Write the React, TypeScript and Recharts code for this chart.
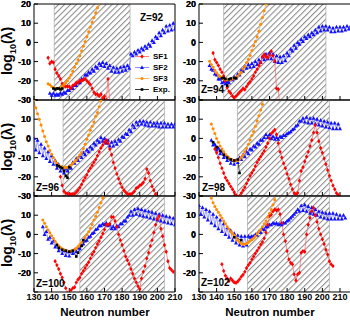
import React from "react";
import { LineChart, Line, XAxis, YAxis, ReferenceArea } from "recharts";

type Pt = [number, number];

// neutron number axis
const nTicks = [130, 140, 150, 160, 170, 180, 190, 200, 210];
const nMinor = [130, 132, 134, 136, 138, 140, 142, 144, 146, 148, 150, 152, 154, 156, 158, 160, 162, 164, 166, 168, 170, 172, 174, 176, 178, 180, 182, 184, 186, 188, 190, 192, 194, 196, 198, 200, 202, 204, 206, 208, 210, 212, 214, 216];
const vTicks = [-30, -20, -10, 0, 10, 20];
const vMinor = [-30, -25, -20, -15, -10, -5, 0, 5, 10, 15, 20];

// Z=92
const z92Sf1: Pt[] = [[138,-8],[139,-11],[140,-10],[141,-10.5],[142,-14],[143,-16],[144,-17.5],[145,-19],[146,-21.5],[147,-22.5],[148,-23],[149,-23],[150,-23],[151,-24],[152,-22.5],[153,-22],[154,-21],[155,-21],[156,-20],[157,-20],[158,-19.5],[159,-19],[160,-20],[161,-21],[162,-22],[163,-24],[164,-26],[165,-27],[166,-27],[167,-28],[168,-27],[169,-29],[170,-28],[171,-30],[172,-19],[173,-31]];
const z92Sf2: Pt[] = [[139,-26.5],[140,-27.5],[141,-26.5],[142,-27.5],[143,-27],[144,-27.5],[145,-26.5],[146,-27],[147,-26],[148,-26.5],[149,-25],[150,-25],[151,-24],[152,-24],[153,-22.5],[154,-22.5],[155,-21],[156,-21],[157,-19],[158,-19],[159,-17],[160,-17],[161,-15.5],[162,-16],[163,-14],[164,-15],[165,-12.5],[166,-13.5],[167,-11],[168,-12],[169,-10.5],[170,-12.5],[171,-11],[172,-13.5],[173,-12],[174,-15],[175,-13],[176,-15.5],[177,-13.5],[178,-15.5],[179,-13],[180,-15],[181,-12.5],[182,-14.5],[183,-12],[184,-13.5],[185,-6],[186,-7],[187,-5],[188,-6],[189,-4],[190,-5],[191,-3],[192,-4],[193,-2],[194,-3],[195,-1],[196,-2],[197,1],[198,0],[199,3],[200,2],[201,5],[202,3.5],[203,6.5],[204,5],[205,8.5],[206,6],[207,9],[208,6.5],[209,10],[210,7]];
const z92Sf3: Pt[] = [[138,-21.5],[139,-22],[140,-23],[141,-23.5],[142,-24],[143,-24],[144,-24],[145,-23.5],[146,-23],[147,-22],[148,-21],[149,-20],[150,-18.5],[151,-17],[152,-15],[153,-13],[154,-11],[155,-9],[156,-7],[157,-4.5],[158,-2],[159,0.5],[160,3],[161,5.5],[162,8],[163,10.5],[164,13],[165,15.5],[166,18],[167,20.5]];
const z92Exp: Pt[] = [[141,-24],[142,-24.5],[143,-24],[144,-24],[145,-24.5],[146,-24]];

// Z=94
const z94Sf1: Pt[] = [[138,-5.5],[139,-9],[140,-10.5],[141,-12],[142,-14],[143,-15.5],[144,-17.5],[145,-20],[146,-23.5],[147,-25.5],[148,-26.5],[149,-28],[150,-28.8],[151,-28],[152,-27],[153,-26],[154,-25],[155,-24],[156,-24.5],[157,-23],[158,-21.5],[159,-20.5],[160,-19],[161,-17.5],[162,-15.5],[163,-14],[164,-12],[165,-10.5],[166,-7.5],[167,-6.3],[168,-7.5],[169,-8],[170,-6.5],[171,-4.6],[172,-7],[173,-9.7],[174,-24],[175,-24.4],[176,-35]];
const z94Sf2: Pt[] = [[136,-12],[137,-14],[138,-14.5],[139,-16.5],[140,-17],[141,-19],[142,-19],[143,-21],[144,-20.5],[145,-21.5],[146,-20.5],[147,-21],[148,-19.5],[149,-19.5],[150,-18],[151,-18.5],[152,-16.5],[153,-17],[154,-14.5],[155,-15],[156,-12.5],[157,-13.5],[158,-11.5],[159,-13],[160,-11],[161,-12.5],[162,-10],[163,-11.5],[164,-9],[165,-10.5],[166,-7.5],[167,-9],[168,-6],[169,-8.5],[170,-5.5],[171,-8.5],[172,-6],[173,-10],[174,-7],[175,-10.5],[176,-7.5],[177,-10.5],[178,-7],[179,-9.5],[180,-5.5],[181,-7],[182,-3.5],[183,-4.5],[184,-1.5],[185,-3],[186,0],[187,-1],[188,1.5],[189,0.5],[190,3],[191,2],[192,4],[193,3],[194,5],[195,4],[196,6.5],[197,5],[198,8],[199,6],[200,8.5],[201,6.5],[202,8.5],[203,6.5],[204,8],[205,5.5],[206,7.5],[207,5.5],[208,8],[209,6],[210,8],[211,6],[212,8],[213,6.5],[214,8.5],[215,7],[216,8.5]];
const z94Sf3: Pt[] = [[136,-9.8],[137,-11.5],[138,-13],[139,-14.5],[140,-15.8],[141,-17],[142,-17.8],[143,-18.5],[144,-19],[145,-19.2],[146,-19.4],[147,-19.4],[148,-19.3],[149,-19.1],[150,-18.6],[151,-18.2],[152,-17.5],[153,-16.5],[154,-15.5],[155,-13.8],[156,-12.5],[157,-10.5],[158,-8.8],[159,-6.8],[160,-4.2],[161,-1.8],[162,0.5],[163,3],[164,5.8],[165,9.5],[166,13],[167,16.5],[168,20],[169,23]];
const z94Exp: Pt[] = [[143,-18.6],[144,-18.5],[145,-19],[146,-22.5],[147,-19.2],[148,-18.8],[150,-18.6],[151,-18.6]];

// Z=96
const z96Sf1: Pt[] = [[145,-20],[146,-24.5],[147,-27.5],[148,-28.5],[149,-28.8],[150,-29],[151,-29],[152,-29],[153,-29],[154,-28],[155,-27],[156,-25.7],[157,-24],[158,-22],[159,-20.5],[160,-19],[161,-17],[162,-15.5],[163,-14],[164,-12.5],[165,-11],[166,-9],[167,-7],[168,-5],[169,-3.5],[170,-2],[171,-1],[172,-2.5],[173,-5.5],[174,-8.5],[175,-12.5],[176,-15.5],[177,-18.5],[178,-21],[179,-23.5],[180,-25.5],[181,-27],[182,-28],[183,-29],[184,-29],[185,-29],[186,-28.5],[187,-27.5],[188,-26],[189,-25.5],[190,-24.5],[191,-24],[192,-23],[193,-21],[194,-16],[195,-18],[196,-22],[197,-25],[198,-27],[199,-29],[200,-31]];
const z96Sf2: Pt[] = [[130,0],[131,-6],[132,-1],[133,-7.5],[134,-3],[135,-9],[136,-5],[137,-10.5],[138,-7],[139,-12],[140,-9],[141,-13.5],[142,-11.5],[143,-15.5],[144,-13.5],[145,-17],[146,-15],[147,-18],[148,-15.5],[149,-17],[150,-14.5],[151,-15.5],[152,-12.5],[153,-13],[154,-10.5],[155,-11.5],[156,-9],[157,-10],[158,-7.5],[159,-8.5],[160,-6],[161,-7],[162,-4.5],[163,-5.5],[164,-2.5],[165,-3.5],[166,-1],[167,-2],[168,0.5],[169,-1.5],[170,0],[171,-2.5],[172,-1],[173,-4],[174,-2],[175,-4],[176,-1.5],[177,-3],[178,-0.5],[179,-1.5],[180,1],[181,0.5],[182,2.5],[183,2],[184,4.5],[185,3.5],[186,7],[187,5.5],[188,8.5],[189,7],[190,9],[191,7.5],[192,9],[193,7],[194,8.5],[195,6.5],[196,8.5],[197,6.5],[198,8],[199,6.5],[200,8],[201,6],[202,8],[203,6],[204,8],[205,6],[206,7.5],[207,6],[208,7.5],[209,6],[210,7.5]];
const z96Sf3: Pt[] = [[130,20],[131,16],[132,12.8],[133,10],[134,7],[135,3.8],[136,1],[137,-1.7],[138,-4],[139,-6.3],[140,-8.3],[141,-10],[142,-11.6],[143,-13],[144,-14],[145,-14.7],[146,-15],[147,-15],[148,-15.1],[149,-15],[150,-14.6],[151,-14],[152,-13],[153,-12],[154,-11.2],[155,-10],[156,-8.6],[157,-7.3],[158,-5.3],[159,-3],[160,-0.5],[161,1.8],[162,4.2],[163,6.3],[164,8.5],[165,11.5],[166,13.5],[167,16.5],[168,19.5],[169,22.5]];
const z96Exp: Pt[] = [[143,-14],[144,-14.5],[145,-15],[146,-15.5],[147,-17],[148,-19.5],[149,-20.5],[150,-15]];

// Z=98
const z98Sf1: Pt[] = [[139,-5.5],[140,-7.5],[141,-10],[142,-13],[143,-15.5],[144,-18],[145,-20.5],[146,-22],[147,-23.5],[148,-25],[149,-26.5],[150,-28],[151,-29.5],[152,-31],[153,-30],[154,-28.5],[155,-27],[156,-25.5],[157,-23.5],[158,-21.5],[159,-19.5],[160,-18],[161,-16.5],[162,-14.5],[163,-12.5],[164,-11],[165,-9.5],[166,-8],[167,-6.5],[168,-4.5],[169,-2.5],[170,0],[171,2.5],[172,3.5],[173,4.5],[174,2],[175,-2.5],[176,-7],[177,-10],[178,-13],[179,-15.5],[180,-18.5],[181,-21],[182,-24],[183,-26.5],[184,-28.5],[185,-29],[186,-28.5],[187,-22],[188,-17],[189,-15],[190,-12],[191,-9.5],[192,-7],[193,-4],[194,-1],[195,3],[196,7],[197,3],[198,-1.5],[199,-5],[200,-7.5],[201,-10.5],[202,-13.5],[203,-16.5],[204,-19.5],[205,-22],[206,-24.5],[207,-26.5],[208,-28.5],[209,-29.5],[210,-31]];
const z98Sf2: Pt[] = [[137,-1],[138,-3.5],[139,-3],[140,-6],[141,-5],[142,-8],[143,-7],[144,-10],[145,-9],[146,-11.5],[147,-10.5],[148,-13],[149,-11.5],[150,-13.5],[151,-11.5],[152,-12.5],[153,-10],[154,-11],[155,-8.5],[156,-9.5],[157,-7],[158,-8],[159,-5.5],[160,-6],[161,-4],[162,-4.5],[163,-2.5],[164,-3],[165,-1],[166,-1],[167,0.5],[168,2],[169,0.5],[170,2],[171,0],[172,1],[173,-0.5],[174,0.5],[175,-0.5],[176,1],[177,0.5],[178,1.5],[179,1.5],[180,2.5],[181,3],[182,3.5],[183,4.5],[184,5],[185,6.5],[186,7],[187,9],[188,9],[189,10.5],[190,8.5],[191,11],[192,8],[193,10.5],[194,8],[195,10.5],[196,7.5],[197,10],[198,7],[199,9.5],[200,6.5],[201,9],[202,6],[203,8.5],[204,5.5],[205,8],[206,5],[207,8],[208,5],[209,7.5],[210,5]];
const z98Sf3: Pt[] = [[137,7.5],[138,5],[139,2.5],[140,0],[141,-2],[142,-4],[143,-5.5],[144,-7],[145,-8.3],[146,-9.3],[147,-10.2],[148,-10.8],[149,-11.3],[150,-11.6],[151,-11.7],[152,-11.5],[153,-10.8],[154,-9.8],[155,-8.6],[156,-7],[157,-5.3],[158,-3],[159,-0.8],[160,1.5],[161,3.6],[162,6.3],[163,9],[164,11.8],[165,14.8],[166,17.8],[167,21]];
const z98Exp: Pt[] = [[138,-2],[140,-4.5],[142,-6.5],[144,-8.5],[146,-10],[148,-11],[150,-11.5],[152,-11],[153,-18]];

// Z=100
const z100Sf1: Pt[] = [[142,-14],[143,-16],[144,-18],[145,-20.5],[146,-22.5],[147,-25],[148,-28],[149,-30.5],[150,-31],[151,-29],[152,-28],[153,-27.5],[154,-25],[155,-23.5],[156,-22.5],[157,-20.5],[158,-19],[159,-17.5],[160,-16],[161,-14.5],[162,-12.5],[163,-10.5],[164,-9],[165,-7],[166,-5],[167,-3.5],[168,-1.5],[169,0.5],[170,2.5],[171,5],[172,5],[173,5.5],[174,9],[175,9],[176,7],[177,4],[178,0],[179,-3],[180,-5.5],[181,-8.5],[182,-11.5],[183,-13.5],[184,-15.5],[185,-18],[186,-20.5],[187,-23],[188,-25],[189,-27],[190,-28.5],[191,-23],[192,-19.5],[193,-16.5],[194,-12.5],[195,-9.5],[196,-6],[197,-3],[198,1],[199,5],[200,8],[201,9.5],[202,3],[203,-1],[204,-5.5],[205,-9],[206,-14],[207,-17.5],[208,-18.5],[209,-19.5]];
const z100Sf2: Pt[] = [[135,4],[136,0],[137,1.5],[138,-2.5],[139,-1.5],[140,-4.5],[141,-3.5],[142,-6.5],[143,-5.5],[144,-8.5],[145,-7],[146,-10],[147,-8.5],[148,-11],[149,-9],[150,-11.3],[151,-9],[152,-10],[153,-8],[154,-9],[155,-7],[156,-7.5],[157,-5.5],[158,-5],[159,-3.5],[160,-3],[161,-1.5],[162,-1],[163,0.5],[164,1],[165,2.5],[166,3],[167,4.5],[168,4.5],[169,5.5],[170,5],[171,6],[172,4.5],[173,5],[174,3],[175,4],[176,3],[177,4.5],[178,4],[179,5.5],[180,5.5],[181,7],[182,7],[183,9],[184,10],[185,12],[186,10],[187,13],[188,10.5],[189,13.5],[190,10],[191,13],[192,9.5],[193,12.5],[194,9],[195,12],[196,8.5],[197,11.5],[198,8],[199,11],[200,7.5],[201,10.5],[202,7],[203,10],[204,6.5],[205,9.5],[206,6],[207,9],[208,5.5],[209,8.5],[210,5]];
const z100Sf3: Pt[] = [[135,7.5],[136,5.8],[137,4],[138,2.3],[139,0.8],[140,-0.7],[141,-2.2],[142,-3.6],[143,-5],[144,-6],[145,-6.8],[146,-7.5],[147,-8],[148,-8.4],[149,-8.7],[150,-8.8],[151,-8.7],[152,-8.4],[153,-7.8],[154,-7.2],[155,-6.3],[156,-5.3],[157,-4.2],[158,-3],[159,-1.6],[160,-0.2],[161,1.4],[162,3.2],[163,5.2],[164,7.5],[165,9.5],[166,11.5],[167,14],[168,16.5],[169,19],[170,21.5]];
const z100Exp: Pt[] = [[143,-5.5],[144,-7],[146,-8],[148,-8.5],[150,-9],[152,-8.5],[154,-11.5],[155,-9.5],[157,-6],[158,-3]];

// Z=102
const z102Sf1: Pt[] = [[143,-15.5],[144,-19],[145,-21.5],[146,-23],[147,-24.3],[148,-23],[149,-24],[150,-25],[151,-25.2],[152,-24.5],[153,-23.4],[154,-22],[155,-21],[156,-19.5],[157,-17.5],[158,-16],[159,-14.8],[160,-13],[161,-11.5],[162,-10],[163,-8.5],[164,-7],[165,-5.3],[166,-4],[167,-2],[168,1],[169,5],[170,9.5],[171,10.3],[172,12],[173,13],[174,12.5],[175,13],[176,10.5],[177,6],[178,0],[179,-3.5],[180,-8.7],[181,-13],[182,-14.8],[183,-15.6],[184,-20.8],[185,-24],[186,-20.8],[187,-20],[188,-9.5],[189,-8.7],[190,-9],[191,0],[192,5],[193,8.6],[194,12],[195,13.8],[196,10],[197,6.5],[198,3],[199,0],[200,-2.5],[201,-5],[202,-8],[203,-10.5],[204,-14],[205,-15.6],[206,-16.5]];
const z102Sf2: Pt[] = [[130,15],[131,10.5],[132,14],[133,9],[134,13],[135,7.5],[136,12],[137,6],[138,10.5],[139,4.5],[140,9],[141,3],[142,7.5],[143,1.5],[144,5.5],[145,0],[146,3.5],[147,-1.5],[148,2],[149,-3],[150,0.5],[151,-4.5],[152,-0.5],[153,-5.5],[154,-1],[155,-6],[156,-1],[157,-5.5],[158,-1],[159,-1.5],[160,-1],[161,-1],[162,0],[163,-0.5],[164,1.5],[165,1],[166,3],[167,2.5],[168,4],[169,4],[170,5],[171,5],[172,6],[173,5.5],[174,6],[175,5],[176,5.5],[177,5],[178,6],[179,6],[180,7],[181,7.5],[182,8.5],[183,9.5],[184,10.5],[185,11.5],[186,13],[187,12],[188,15],[189,12.5],[190,15.5],[191,12],[192,14.5],[193,11],[194,14],[195,10.5],[196,13],[197,10],[198,12],[199,9],[200,11.5],[201,8.5],[202,11],[203,8],[204,11],[205,8],[206,11],[207,8],[208,10.5],[209,8],[210,10],[211,8],[212,10],[213,8.5]];
const z102Sf3: Pt[] = [[137,19],[138,16.5],[139,14.5],[140,13],[141,11.5],[142,10],[143,8.5],[144,7],[145,5.5],[146,4],[147,2.8],[148,1.5],[149,0.5],[150,-0.5],[151,-1.8],[152,-3],[153,-4],[154,-4.8],[155,-5.2],[156,-5],[157,-4.7],[158,-4.2],[159,-3.5],[160,-2.8],[161,-2],[162,-1],[163,0.3],[164,1.5],[165,2.5],[166,4],[167,5.5],[168,7],[169,9],[170,11],[171,13],[172,15.5],[173,18],[174,21]];
const z102Exp: Pt[] = [[150,-1.5],[154,-3]];

// hatched (shaded) neutron ranges
const z92Band: Pt = [141.5, 184.5];
const z94Band: Pt = [144, 202];
const z96Band: Pt = [146.5, 204];
const z98Band: Pt = [151.8, 204];
const z100Band: Pt = [156, 204];
const z102Band: Pt = [157.5, 204];

// x ranges of the two columns (the right column runs past 210 and is cut by the figure edge)
const leftDomain: Pt = [130, 210];
const rightDomain: Pt = [130, 216];

const seriesNames = ["SF1", "SF2", "SF3", "Exp."];

const PX_PER_N = 1.7625;
const PLOT_H = 96;
const FONT = "Arial, 'Liberation Sans', sans-serif";

const RED = "#ff0000";
const BLUE = "#1010ff";
const ORANGE = "#ff8c00";

const pts = (a: Pt[]) => a.map(([n, v]) => ({ n, v }));

const diamond = (p: any) => (
  <path key={`d${p.index}`} d={`M${p.cx},${p.cy - 2.2}L${p.cx + 1.7},${p.cy}L${p.cx},${p.cy + 2.2}L${p.cx - 1.7},${p.cy}Z`} fill={RED} />
);
const triangle = (p: any) => (
  <path key={`t${p.index}`} d={`M${p.cx},${p.cy - 2.2}L${p.cx + 2},${p.cy + 1.5}L${p.cx - 2},${p.cy + 1.5}Z`} fill={BLUE} />
);
const circle = (p: any) => <circle key={`c${p.index}`} cx={p.cx} cy={p.cy} r={1.5} fill={ORANGE} />;
const square = (p: any) => <rect key={`s${p.index}`} x={p.cx - 1.3} y={p.cy - 1.3} width={2.6} height={2.6} fill="#000" />;

const tickText = { fontSize: 9, fontWeight: 700, fill: "#000", fontFamily: FONT };
const hiddenByRow = [[], [20], [20, -30]] as number[][];

type PanelProps = {
  id: string;
  left: number;
  top: number;
  axisW: number;
  row: number;
  domain: Pt;
  sf1: Pt[];
  sf2: Pt[];
  sf3: Pt[];
  exp: Pt[];
  band: Pt;
};

function Panel({ id, left, top, axisW, row, domain, sf1, sf2, sf3, exp, band }: PanelProps) {
  const mTop = 6;
  const mBottom = row === 2 ? 18 : 6;
  const mRight = 10;
  const plotW = (domain[1] - domain[0]) * PX_PER_N;
  const hidden = hiddenByRow[row];

  const xTick = (p: any) =>
    row === 2 ? (
      <text key={`x${p.index}`} x={p.x} y={p.y} textAnchor="middle" dominantBaseline="hanging" {...tickText}>
        {p.payload.value}
      </text>
    ) : (
      <g key={`x${p.index}`} />
    );
  const yTick = (p: any) =>
    hidden.includes(p.payload.value) ? (
      <g key={`y${p.index}`} />
    ) : (
      <text key={`y${p.index}`} x={axisW - 3} y={p.y} textAnchor="end" dy="0.35em" {...tickText}>
        {p.payload.value}
      </text>
    );

  // 1px bands for the top/bottom x axes and the right y axis
  return (
    <div style={{ position: "absolute", left, top: top - mTop - 1 }}>
      <LineChart
        width={axisW + plotW + 1 + mRight}
        height={mTop + PLOT_H + 2 + mBottom}
        margin={{ top: mTop, right: mRight, bottom: mBottom, left: 0 }}
        style={{ overflow: "visible" }}
      >
        <defs>
          <pattern id={`hatch${id}`} width={4.2} height={4.2} patternUnits="userSpaceOnUse" patternTransform="rotate(45)">
            <line x1={0.5} y1={0} x2={0.5} y2={4.2} stroke="#8a8a8a" strokeWidth={1.1} />
          </pattern>
        </defs>
        <XAxis
          dataKey="n"
          type="number"
          domain={domain}
          allowDataOverflow
          ticks={nTicks}
          interval={0}
          height={1}
          tickSize={-4}
          tickMargin={6}
          stroke="#000"
          tick={xTick}
        />
        <XAxis xAxisId="top" orientation="top" type="number" domain={domain} allowDataOverflow ticks={nMinor} interval={0} height={1} tickSize={-2} tick={false} stroke="#000" />
        <YAxis type="number" domain={[-30, 20]} allowDataOverflow ticks={vTicks} interval={0} width={axisW} tickSize={-4} tickMargin={6} stroke="#000" tick={yTick} />
        <YAxis yAxisId="right" orientation="right" type="number" domain={[-30, 20]} allowDataOverflow ticks={vMinor} interval={0} width={1} tickSize={-2} tick={false} stroke="#000" />
        <ReferenceArea x1={band[0]} x2={band[1]} y1={-30} y2={20} fill={`url(#hatch${id})`} fillOpacity={1} stroke="#9a9a9a" strokeWidth={0.6} ifOverflow="hidden" />
        <Line data={pts(sf2)} dataKey="v" stroke="#7070ff" strokeWidth={0.7} dot={triangle} isAnimationActive={false} />
        <Line data={pts(sf1)} dataKey="v" stroke="#ff6060" strokeWidth={0.7} dot={diamond} isAnimationActive={false} />
        <Line data={pts(sf3)} dataKey="v" stroke="#ffa040" strokeWidth={0.7} dot={circle} isAnimationActive={false} />
        <Line data={pts(exp)} dataKey="v" stroke="#000" strokeWidth={0.7} dot={square} isAnimationActive={false} />
      </LineChart>
    </div>
  );
}

// y tick labels as html blocks next to each panel's left edge
function YLabels({ right, tops }: { right: number; tops: number[] }) {
  return (
    <>
      {tops.map((t, r) =>
        vTicks
          .filter((v) => !hiddenByRow[r].includes(v))
          .map((v) => (
            <div
              key={`${r}_${v}`}
              style={{
                position: "absolute",
                left: right - 18,
                width: 18,
                top: t + ((20 - v) * PLOT_H) / 50,
                transform: "translateY(-50%)",
                textAlign: "right",
                fontFamily: FONT,
                fontWeight: "bold",
                fontSize: 9,
                lineHeight: 1,
                color: "#000",
                zIndex: 5,
              }}
            >
              {v}
            </div>
          ))
      )}
    </>
  );
}

const legendMarks = [diamond, triangle, circle, square];
const legendLines = ["#ff6060", "#7070ff", "#ffa040", "#000"];

function LegendBox() {
  return (
    <div style={{ position: "absolute", left: 134, top: 51 }}>
      {seriesNames.map((name, i) => (
        <div key={name} style={{ display: "flex", alignItems: "center", height: 11 }}>
          <svg width={16} height={11}>
            <line x1={1} y1={5.5} x2={15} y2={5.5} stroke={legendLines[i]} strokeWidth={0.8} />
            {legendMarks[i]({ cx: 8, cy: 5.5, index: i })}
          </svg>
          <span style={{ fontFamily: FONT, fontWeight: "bold", fontSize: 8, marginLeft: 3 }}>{name}</span>
        </div>
      ))}
    </div>
  );
}

const zStyle = (left: number, top: number): React.CSSProperties => ({
  position: "absolute",
  left,
  top,
  transform: "translateY(-50%)",
  fontFamily: FONT,
  fontWeight: "bold",
  fontSize: 10,
  lineHeight: 1,
  whiteSpace: "nowrap",
});

const yLabel = (cy: number) => (
  <div
    key={cy}
    style={{
      position: "absolute",
      left: 9,
      top: cy,
      transform: "translate(-50%, -50%) rotate(-90deg)",
      fontFamily: FONT,
      fontWeight: "bold",
      fontSize: 14,
      lineHeight: 1,
      whiteSpace: "nowrap",
    }}
  >
    log<sub style={{ fontSize: 9 }}>10</sub>(λ)
  </div>
);

const xLabelStyle = (cx: number): React.CSSProperties => ({
  position: "absolute",
  left: cx,
  top: 313,
  transform: "translate(-50%, -50%)",
  fontFamily: FONT,
  fontWeight: "bold",
  fontSize: 11.5,
  lineHeight: 1,
  whiteSpace: "nowrap",
});

export default function App() {
  const L = { left: 0, axisW: 34, domain: leftDomain };
  const R = { left: 175, axisW: 24, domain: rightDomain };
  const rowTops = [4, 100, 196];
  return (
    <div style={{ position: "absolute", left: 0, top: 0, width: 350, height: 321, background: "#fff", overflow: "hidden" }}>
      <Panel id="92" {...L} top={rowTops[0]} row={0} sf1={z92Sf1} sf2={z92Sf2} sf3={z92Sf3} exp={z92Exp} band={z92Band} />
      <Panel id="94" {...R} top={rowTops[0]} row={0} sf1={z94Sf1} sf2={z94Sf2} sf3={z94Sf3} exp={z94Exp} band={z94Band} />
      <Panel id="96" {...L} top={rowTops[1]} row={1} sf1={z96Sf1} sf2={z96Sf2} sf3={z96Sf3} exp={z96Exp} band={z96Band} />
      <Panel id="98" {...R} top={rowTops[1]} row={1} sf1={z98Sf1} sf2={z98Sf2} sf3={z98Sf3} exp={z98Exp} band={z98Band} />
      <Panel id="100" {...L} top={rowTops[2]} row={2} sf1={z100Sf1} sf2={z100Sf2} sf3={z100Sf3} exp={z100Exp} band={z100Band} />
      <Panel id="102" {...R} top={rowTops[2]} row={2} sf1={z102Sf1} sf2={z102Sf2} sf3={z102Sf3} exp={z102Exp} band={z102Band} />
      <YLabels right={31} tops={rowTops} />
      <YLabels right={196} tops={rowTops} />
      <LegendBox />
      <div style={zStyle(140, 18)}>Z=92</div>
      <div style={zStyle(201, 90)}>Z=94</div>
      <div style={zStyle(36, 188)}>Z=96</div>
      <div style={zStyle(202, 188)}>Z=98</div>
      <div style={zStyle(36, 284)}>Z=100</div>
      <div style={zStyle(201, 283)}>Z=102</div>
      {[51, 147, 243].map((cy) => yLabel(cy))}
      <div style={xLabelStyle(105)}>Neutron number</div>
      <div style={xLabelStyle(270)}>Neutron number</div>
    </div>
  );
}
